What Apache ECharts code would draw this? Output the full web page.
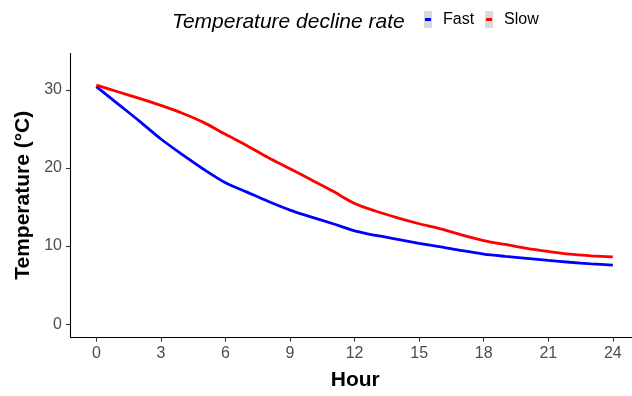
<!DOCTYPE html>
<html>
<head>
<meta charset="utf-8">
<script src="https://cdn.jsdelivr.net/npm/echarts@6/dist/echarts.min.js"></script>
<style>
  html, body { margin: 0; padding: 0; background: #ffffff; }
  #chart { width: 632px; height: 396px; }
</style>
</head>
<body>
<div id="chart"></div>
<script>
// Hourly temperature readings for the two cooling treatments
const hours = [0, 1, 2, 3, 4, 5, 6, 7, 8, 9, 10, 11, 12, 13, 14, 15, 16, 17, 18, 19, 20, 21, 22, 23, 24];
const fastTemp = [30.4, 28.2, 26.0, 23.7, 21.7, 19.8, 18.1, 16.9, 15.7, 14.6, 13.7, 12.85, 11.95, 11.35, 10.85, 10.35, 9.9, 9.4, 8.97, 8.68, 8.43, 8.15, 7.92, 7.72, 7.55];
const slowTemp = [30.6, 29.75, 28.9, 28.0, 27.0, 25.8, 24.3, 22.85, 21.3, 19.9, 18.45, 17.0, 15.45, 14.45, 13.6, 12.85, 12.2, 11.4, 10.7, 10.2, 9.7, 9.3, 8.95, 8.75, 8.6];
const seriesNames = ['Fast', 'Slow'];
const xTicks = [0, 3, 6, 9, 12, 15, 18, 21, 24];
const yTicks = [0, 10, 20, 30];

const FONT = '"Liberation Sans", Arial, sans-serif';
const pairs = (xs, ys) => xs.map((x, i) => [x, ys[i]]);

const chart = echarts.init(document.getElementById('chart'), null, { renderer: 'canvas' });

const legendBase = {
  orient: 'horizontal',
  top: 11,
  padding: 0,
  data: seriesNames,
  selectedMode: false,
  icon: 'rect'
};

chart.setOption({
  animation: false,
  backgroundColor: '#ffffff',
  title: {
    text: 'Temperature decline rate',
    left: 172,
    top: 11,
    padding: 0,
    textStyle: {
      fontFamily: FONT,
      fontSize: 21,
      fontStyle: 'italic',
      fontWeight: 'normal',
      color: '#000000',
      lineHeight: 22
    }
  },
  legend: [
    Object.assign({}, legendBase, {
      left: 424,
      itemWidth: 8,
      itemHeight: 17,
      itemGap: 11,
      itemStyle: { color: '#d9d9d9', borderWidth: 0 },
      textStyle: { fontFamily: FONT, fontSize: 16, color: '#000000', lineHeight: 17, padding: [0, 0, 0, 6] }
    }),
    Object.assign({}, legendBase, {
      left: 425,
      itemWidth: 6,
      itemHeight: 3,
      itemGap: 13,
      itemStyle: { borderWidth: 0 },
      textStyle: { fontFamily: FONT, fontSize: 16, color: 'rgba(0,0,0,0)', lineHeight: 17, padding: [0, 0, 0, 6] }
    })
  ],
  grid: {
    left: 70.5,
    right: 0,
    top: 53.5,
    bottom: 55.2,
    containLabel: false
  },
  xAxis: {
    type: 'value',
    min: -1.2,
    max: 24.89,
    name: 'Hour',
    nameLocation: 'middle',
    nameGap: 33,
    nameTextStyle: { fontFamily: FONT, fontSize: 21, fontWeight: 'bold', color: '#000000', padding: [0, 0, 0, 8] },
    axisLine: { show: true, onZero: false, lineStyle: { color: '#000000', width: 1.1 } },
    axisTick: { show: true, customValues: xTicks, length: 4.6, lineStyle: { color: '#333333', width: 1.1 } },
    axisLabel: { customValues: xTicks, fontFamily: FONT, fontSize: 16, color: '#4d4d4d', margin: 9 },
    splitLine: { show: false }
  },
  yAxis: {
    type: 'value',
    min: -1.65,
    max: 34.65,
    name: 'Temperature (°C)',
    nameLocation: 'middle',
    nameRotate: 90,
    nameGap: 35,
    nameTextStyle: { fontFamily: FONT, fontSize: 21, fontWeight: 'bold', color: '#000000' },
    axisLine: { show: true, onZero: false, lineStyle: { color: '#000000', width: 1.1 } },
    axisTick: { show: true, customValues: yTicks, length: 4.6, lineStyle: { color: '#333333', width: 1.1 } },
    axisLabel: { customValues: yTicks, fontFamily: FONT, fontSize: 16, color: '#4d4d4d', margin: 8.5 },
    splitLine: { show: false }
  },
  series: [
    {
      name: seriesNames[0],
      type: 'line',
      color: '#0000ff',
      data: pairs(hours, fastTemp),
      showSymbol: false,
      symbol: 'none',
      smooth: 0.3,
      lineStyle: { color: '#0000ff', width: 2.8 }
    },
    {
      name: seriesNames[1],
      type: 'line',
      color: '#ff0000',
      data: pairs(hours, slowTemp),
      showSymbol: false,
      symbol: 'none',
      smooth: 0.3,
      lineStyle: { color: '#ff0000', width: 2.8 }
    }
  ]
});
</script>
</body>
</html>
